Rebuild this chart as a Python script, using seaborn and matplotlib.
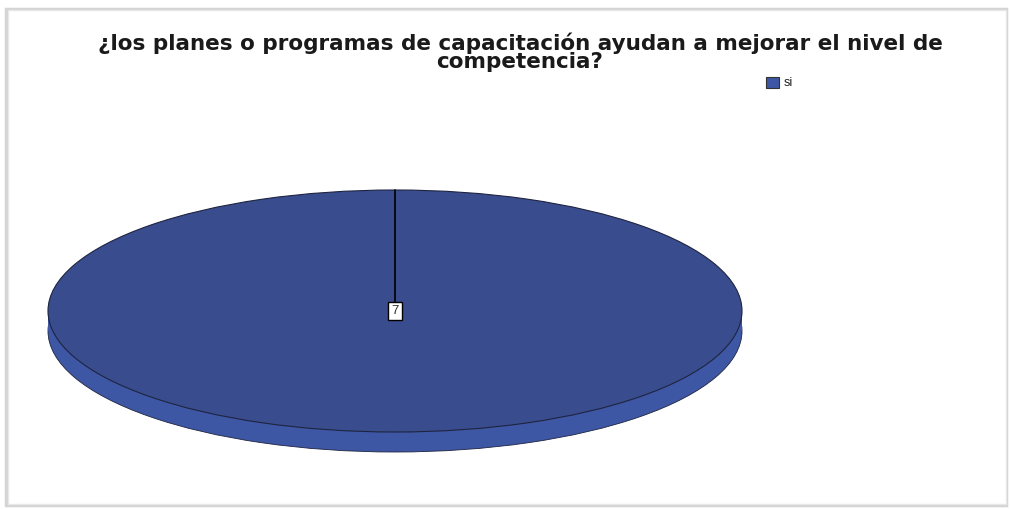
import matplotlib
matplotlib.use("Agg")
import matplotlib.pyplot as plt
from matplotlib.patches import Rectangle
import seaborn as sns

# Survey answer counts
categorias = ["si"]
frecuencias = [7]
titulo = "¿los planes o programas de capacitación ayudan a mejorar el nivel de\ncompetencia?"

sns.set_theme(style="white")
plt.rcParams["font.family"] = ["Liberation Sans", "DejaVu Sans"]

color_cara = "#394C8D"
color_lado = "#3E57A4"
color_borde = "#1E2440"

W, H = 1011, 509
fig = plt.figure(figsize=(W / 100, H / 100), dpi=100)
fig.patch.set_facecolor("white")

# Outer frame with soft shadow, kept behind the chart
fig.add_artist(Rectangle((6 / W, 4 / H), 1000 / W, 496 / H, transform=fig.transFigure,
                         facecolor="none", edgecolor="#d4d4d4", lw=2.5, zorder=-2))
fig.add_artist(Rectangle((8 / W, 5 / H), 998 / W, 494 / H, transform=fig.transFigure,
                         facecolor="white", edgecolor="#e8e8e8", lw=1.0, zorder=-1))

# Pie axes: radius 1 maps to the elliptical top face
cx, cy = 395, 198          # centre in pixels from bottom-left
rx, ry = 347, 121          # semi-axes in pixels
depth = 20 / ry
ax = fig.add_axes([0, 0, 1, 1], zorder=1)
ax.set_facecolor("none")

# Side of the disc: lower copy plus a band between both faces
ax.pie(frecuencias, colors=[color_lado], startangle=90, counterclock=False,
       center=(0, -depth), radius=1,
       wedgeprops=dict(edgecolor=color_borde, linewidth=0.6))
ax.add_patch(Rectangle((-1, -depth), 2, depth, facecolor=color_lado, edgecolor="none", zorder=1.5))

# Top face
ax.pie(frecuencias, colors=[color_cara], startangle=90, counterclock=False,
       center=(0, 0), radius=1,
       wedgeprops=dict(edgecolor=color_borde, linewidth=0.8))
ax.patches[-1].set_zorder(2)

# Slice boundary and value label
ax.plot([0, 0], [0, 1], color="black", lw=1.2, zorder=3)
ax.text(0, 0, str(frecuencias[0]), ha="center", va="center", fontsize=9.5,
        color="#333333", zorder=4,
        bbox=dict(boxstyle="square,pad=0.25", facecolor="white", edgecolor="black", lw=1.0))

ax.set_aspect("auto")
ax.set_xlim(-cx / rx, (W - cx) / rx)
ax.set_ylim(-cy / ry, (H - cy) / ry)
ax.axis("off")

# Title
fig.text(520 / W, 1 - 52 / H, titulo, ha="center", va="center", fontsize=15.5,
         fontweight="bold", color="#1a1a1a", linespacing=0.9,
         family=["DejaVu Sans"], zorder=5)

# Legend
fig.add_artist(Rectangle((766 / W, 1 - 88 / H), 13 / W, 11 / H, transform=fig.transFigure,
                         facecolor=color_lado, edgecolor="#333333", lw=0.8, zorder=5))
fig.text(784 / W, 1 - 83 / H, categorias[0], ha="left", va="center", fontsize=9,
         color="#222222", zorder=5)

fig.savefig("out.png", dpi=100, facecolor="white")
